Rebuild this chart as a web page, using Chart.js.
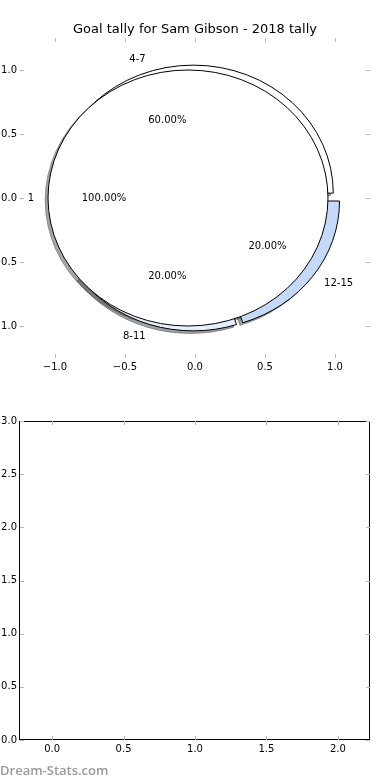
<!DOCTYPE html>
<html>
<head>
<meta charset="utf-8">
<script src="https://cdn.jsdelivr.net/npm/chart.js@4/dist/chart.umd.min.js"></script>
<style>
    body { margin: 0; background: #ffffff; }
    #wrap { position: relative; width: 390px; height: 780px; overflow: hidden; }
    #pieBox { position: absolute; left: 0; top: 0; width: 390px; height: 390px; }
    #emptyBox { position: absolute; left: 0; top: 390px; width: 390px; height: 390px; }
    .watermark {
        position: absolute; left: 0; top: 761px;
        font: 600 13px "Open Sans", sans-serif; color: #9a9a9a; white-space: nowrap;
    }
</style>
</head>
<body>
<div id="wrap">
    <div id="pieBox"><canvas id="pieChart"></canvas></div>
    <div id="emptyBox"><canvas id="emptyChart"></canvas></div>
    <div class="watermark">Dream-Stats.com</div>
</div>
<script>
let chartTitle = 'Goal tally for Sam Gibson - 2018 tally';

// outer ring: goal minute groups
let outerLabels = ['4-7', '8-11', '12-15'];
let outerValues = [3, 1, 1];
let outerColors = ['#ffffff', '#e8effc', '#c6d9f9'];

// inner pie
let innerLabels = ['1'];
let innerValues = [1];
let innerColors = ['#ffffff'];

// tick labels
let pieTicks = [-1.0, -0.5, 0.0, 0.5, 1.0];
let emptyXTicks = [0.0, 0.5, 1.0, 1.5, 2.0];
let emptyYTicks = [0.0, 0.5, 1.0, 1.5, 2.0, 2.5, 3.0];

let outerExplode = 0.04;
let innerExplode = 0.05;
let shadowOffset = 0.02;

function formatTick(v) {
    let s = Math.abs(v).toFixed(1);
    return v < 0 ? '\u2212' + s : s;
}

function buildWedges(values, colors, explode) {
    let total = values.reduce((a, b) => a + b, 0);
    let wedges = [];
    let cum = 0;
    for (let i = 0; i < values.length; i++) {
        let frac = values[i] / total;
        let t1 = 2 * Math.PI * cum;
        let t2 = 2 * Math.PI * (cum + frac);
        let mid = (t1 + t2) / 2;
        wedges.push({
            t1: t1, t2: t2, mid: mid, frac: frac, color: colors[i],
            cx: explode * Math.cos(mid), cy: explode * Math.sin(mid)
        });
        cum += frac;
    }
    return wedges;
}

function wedgePath(chart, w, dx, dy) {
    let ctx = chart.ctx;
    let sx = chart.scales.x;
    let sy = chart.scales.y;
    let px = sx.getPixelForValue(w.cx + dx);
    let py = sy.getPixelForValue(w.cy + dy);
    let rx = sx.getPixelForValue(w.cx + dx + 1) - px;
    let ry = py - sy.getPixelForValue(w.cy + dy + 1);
    ctx.beginPath();
    if (w.frac >= 0.9999) {
        ctx.ellipse(px, py, rx, ry, 0, 0, 2 * Math.PI);
    } else {
        ctx.moveTo(px, py);
        ctx.ellipse(px, py, rx, ry, 0, -w.t1, -w.t2, true);
        ctx.closePath();
    }
}

function shadowColor(hex) {
    let r = parseInt(hex.slice(1, 3), 16) * 0.3;
    let g = parseInt(hex.slice(3, 5), 16) * 0.3;
    let b = parseInt(hex.slice(5, 7), 16) * 0.3;
    return `rgba(${Math.round(r)}, ${Math.round(g)}, ${Math.round(b)}, 0.5)`;
}

function drawLabels(chart, wedges, labels) {
    let ctx = chart.ctx;
    let sx = chart.scales.x;
    let sy = chart.scales.y;
    ctx.fillStyle = '#000000';
    ctx.font = '10px "DejaVu Sans"';
    ctx.textBaseline = 'middle';
    for (let i = 0; i < wedges.length; i++) {
        let w = wedges[i];
        let lx = w.cx + 1.1 * Math.cos(w.mid);
        let ly = w.cy + 1.1 * Math.sin(w.mid);
        ctx.textAlign = lx > 0 ? 'left' : 'right';
        ctx.fillText(labels[i], sx.getPixelForValue(lx), sy.getPixelForValue(ly));
        let qx = w.cx + 0.6 * Math.cos(w.mid);
        let qy = w.cy + 0.6 * Math.sin(w.mid);
        ctx.textAlign = 'center';
        ctx.fillText((w.frac * 100).toFixed(2) + '%', sx.getPixelForValue(qx), sy.getPixelForValue(qy));
    }
}

let piePlugin = {
    id: 'piePlugin',
    afterDatasetsDraw(chart) {
        let ctx = chart.ctx;
        let outer = buildWedges(outerValues, outerColors, outerExplode);
        let inner = buildWedges(innerValues, innerColors, innerExplode);
        let all = outer.concat(inner);
        ctx.save();
        ctx.lineWidth = 1;
        // shadows first, under every wedge
        all.forEach(w => {
            wedgePath(chart, w, -shadowOffset, -shadowOffset);
            ctx.fillStyle = shadowColor(w.color);
            ctx.strokeStyle = shadowColor(w.color);
            ctx.fill();
            ctx.stroke();
        });
        all.forEach(w => {
            wedgePath(chart, w, 0, 0);
            ctx.fillStyle = w.color;
            ctx.strokeStyle = '#000000';
            ctx.fill();
            ctx.stroke();
        });
        drawLabels(chart, outer, outerLabels);
        drawLabels(chart, inner, innerLabels);
        ctx.restore();
    }
};

let axisPlugin = {
    id: 'axisPlugin',
    afterDraw(chart, args, opts) {
        let ctx = chart.ctx;
        let a = chart.chartArea;
        let sx = chart.scales.x;
        let sy = chart.scales.y;
        ctx.save();
        if (opts.frame) {
            ctx.strokeStyle = '#000000';
            ctx.lineWidth = 1;
            ctx.strokeRect(Math.round(a.left) - 0.5, Math.round(a.top) + 0.5,
                Math.round(a.right - a.left), Math.round(a.bottom - a.top) - 1);
        }
        ctx.strokeStyle = '#b8b8b8';
        ctx.lineWidth = 1;
        ctx.beginPath();
        opts.xTicks.forEach(v => {
            let x = Math.round(sx.getPixelForValue(v)) + 0.5;
            ctx.moveTo(x, a.top); ctx.lineTo(x, a.top + 4);
            ctx.moveTo(x, a.bottom); ctx.lineTo(x, a.bottom - 4);
        });
        opts.yTicks.forEach(v => {
            let y = Math.round(sy.getPixelForValue(v)) + 0.5;
            ctx.moveTo(a.left, y); ctx.lineTo(a.left + 4, y);
            ctx.moveTo(a.right, y); ctx.lineTo(a.right - 4, y);
        });
        ctx.stroke();
        ctx.fillStyle = '#000000';
        ctx.font = '10px "DejaVu Sans"';
        ctx.textAlign = 'center';
        ctx.textBaseline = 'middle';
        opts.xTicks.forEach(v => {
            ctx.fillText(formatTick(v), sx.getPixelForValue(v), a.bottom + 9);
        });
        ctx.textAlign = 'right';
        opts.yTicks.forEach(v => {
            ctx.fillText(formatTick(v), a.left - 3, sy.getPixelForValue(v));
        });
        ctx.restore();
    }
};

function hiddenScale(min, max) {
    return {
        type: 'linear', min: min, max: max,
        ticks: { display: false },
        grid: { display: false, drawTicks: false },
        border: { display: false }
    };
}

function renderPieChart() {
    new Chart(document.getElementById('pieChart'), {
        type: 'scatter',
        data: { datasets: [{ data: [] }] },
        options: {
            responsive: true,
            maintainAspectRatio: false,
            animation: false,
            devicePixelRatio: 1,
            layout: { padding: { left: 20, right: 20, top: 0, bottom: 32 } },
            scales: { x: hiddenScale(-1.25, 1.25), y: hiddenScale(-1.25, 1.25) },
            plugins: {
                legend: { display: false },
                tooltip: { enabled: false },
                title: {
                    display: true, text: chartTitle, color: '#000000',
                    font: { family: 'DejaVu Sans', size: 13, weight: 'normal' },
                    padding: { top: 21.5, bottom: 0.9 }
                },
                axisPlugin: { frame: false, xTicks: pieTicks, yTicks: pieTicks }
            }
        },
        plugins: [piePlugin, axisPlugin]
    });
}

function renderEmptyChart() {
    new Chart(document.getElementById('emptyChart'), {
        type: 'scatter',
        data: { datasets: [{ data: [] }] },
        options: {
            responsive: true,
            maintainAspectRatio: false,
            animation: false,
            devicePixelRatio: 1,
            layout: { padding: { left: 20, right: 20, top: 31, bottom: 40 } },
            scales: { x: hiddenScale(-0.225, 2.225), y: hiddenScale(0, 3) },
            plugins: {
                legend: { display: false },
                tooltip: { enabled: false },
                axisPlugin: { frame: true, xTicks: emptyXTicks, yTicks: emptyYTicks }
            }
        },
        plugins: [axisPlugin]
    });
}

renderPieChart();
renderEmptyChart();
</script>
</body>
</html>
